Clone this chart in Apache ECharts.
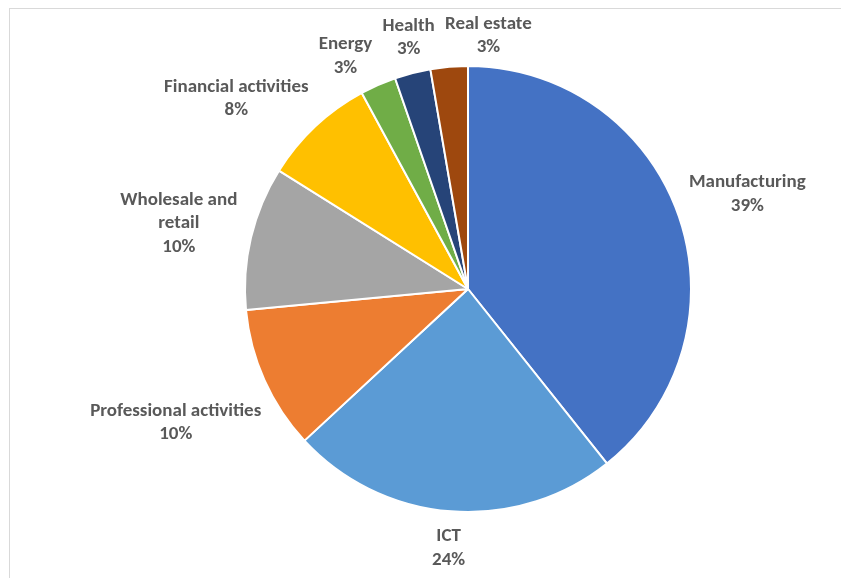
<!DOCTYPE html>
<html>
<head>
<meta charset="utf-8">
<script src="https://cdn.jsdelivr.net/npm/echarts@6/dist/echarts.min.js"></script>
<style>
  html, body { margin: 0; padding: 0; background: #fff; }
  #wrap { position: relative; width: 841px; height: 578px; overflow: hidden; }
  #frame { position: absolute; left: 9px; top: 8px; width: 900px; height: 700px;
           border-left: 1.5px solid #d9d9d9; border-top: 1.5px solid #d9d9d9; }
  #chart { position: absolute; left: 0; top: 0; width: 841px; height: 578px; }
</style>
</head>
<body>
<div id="wrap"><div id="frame"></div><div id="chart"></div></div>
<script>
// ---- data ----
const categories = ['Manufacturing', 'ICT', 'Professional activities', 'Wholesale and retail',
                    'Financial activities', 'Energy', 'Health', 'Real estate'];
const labelNames = ['Manufacturing', 'ICT', 'Professional activities', 'Wholesale and\nretail',
                    'Financial activities', 'Energy', 'Health', 'Real estate'];
const shares = [39.3, 23.8, 10.4, 10.4, 8.2, 2.6, 2.6, 2.7];
const colors = ['#4472C4', '#5B9BD5', '#ED7D31', '#A5A5A5', '#FFC000', '#70AD47', '#264478', '#9E480E'];

// ---- font selection ----
const ctx = document.createElement('canvas').getContext('2d');
function hasFont(f) {
  const t = 'abcdefghijklmnopqrstuvwxyzWMI0123';
  let ok = false;
  ['monospace', 'serif'].forEach(function (fb) {
    ctx.font = 'bold 40px ' + fb; const a = ctx.measureText(t).width;
    ctx.font = "bold 40px '" + f + "', " + fb; const b = ctx.measureText(t).width;
    if (a !== b) ok = true;
  });
  return ok;
}
const fontCandidates = ['Carlito', 'Liberation Sans Narrow', 'Open Sans', 'Noto Sans', 'Liberation Sans'];
let fontFamily = 'sans-serif';
for (const f of fontCandidates) { if (hasFont(f)) { fontFamily = f; break; } }
function textW(s, size) { ctx.font = 'bold ' + size + "px '" + fontFamily + "'"; return ctx.measureText(s).width; }
const targets = [['Manufacturing', 116], ['Professional activities', 163], ['Financial activities', 144]];
let ratio = 0;
targets.forEach(function (t) { ratio += t[1] / textW(t[0], 19); });
ratio /= targets.length;
const fontSize = fontFamily === 'Carlito' ? 19 : Math.min(19, Math.round(19 * ratio * 2) / 2);
const lineH = 23.5;

// ---- geometry of pie ----
const CX = 468, CY = 289, R = 223, GAP = 10, DY = 3;
const total = shares.reduce(function (a, b) { return a + b; }, 0);
const texts = shares.map(function (v, i) { return labelNames[i] + '\n' + Math.round(v / total * 100) + '%'; });
const boxes = texts.map(function (t) {
  const lines = t.split('\n');
  let w = 0; lines.forEach(function (l) { w = Math.max(w, textW(l, fontSize)); });
  return { hw: w / 2, hh: lines.length * lineH / 2 };
});
let acc = 0;
const ang = shares.map(function (v) { const a = (acc + v / 2) / total * 360; acc += v; return a; });
function place(i, a) {
  const rad = a * Math.PI / 180, dx = Math.sin(rad), dy = -Math.cos(rad);
  const hw = boxes[i].hw, hh = boxes[i].hh;
  let lo = 0, hi = 600;
  for (let k = 0; k < 40; k++) {
    const t = (lo + hi) / 2;
    const nx = Math.max(Math.abs(t * dx) - hw, 0), ny = Math.max(Math.abs(t * dy) - hh, 0);
    if (Math.hypot(nx, ny) < R + GAP) lo = t; else hi = t;
  }
  return { x: CX + hi * dx, y: CY + hi * dy + DY };
}
function overlap(p, q, i, j, pad) {
  return Math.abs(p.x - q.x) < boxes[i].hw + boxes[j].hw + pad &&
         Math.abs(p.y - q.y) < boxes[i].hh + boxes[j].hh + pad * 0.2;
}
const curAng = ang.slice();
for (let it = 0; it < 3000; it++) {
  const pos = curAng.map(function (a, i) { return place(i, a); });
  let moved = false;
  for (let i = 0; i < pos.length; i++) for (let j = i + 1; j < pos.length; j++) {
    if (overlap(pos[i], pos[j], i, j, 10)) {
      moved = true;
      if (curAng[i] < curAng[j]) { curAng[i] -= 0.05; curAng[j] += 0.05; }
      else { curAng[i] += 0.05; curAng[j] -= 0.05; }
    }
  }
  if (!moved) break;
}
const labelPos = curAng.map(function (a, i) { return place(i, a); });

// ---- chart ----
const chart = echarts.init(document.getElementById('chart'), null, { renderer: 'canvas' });
chart.setOption({
  animation: false,
  backgroundColor: 'transparent',
  color: colors,
  series: [{
    type: 'pie',
    center: [CX, CY],
    radius: [0, R],
    startAngle: 90,
    clockwise: true,
    avoidLabelOverlap: false,
    itemStyle: { borderColor: '#ffffff', borderWidth: 2 },
    label: {
      show: true,
      position: 'outside',
      color: '#595959',
      fontFamily: fontFamily,
      fontWeight: 'bold',
      fontSize: fontSize,
      lineHeight: lineH,
      align: 'center',
      formatter: function (p) { return texts[p.dataIndex]; }
    },
    labelLine: { show: false },
    labelLayout: function (p) {
      const q = labelPos[p.dataIndex];
      return { x: q.x, y: q.y, align: 'center', verticalAlign: 'middle' };
    },
    emphasis: { disabled: true },
    data: categories.map(function (c, i) { return { name: c, value: shares[i] }; })
  }]
});
</script>
</body>
</html>
